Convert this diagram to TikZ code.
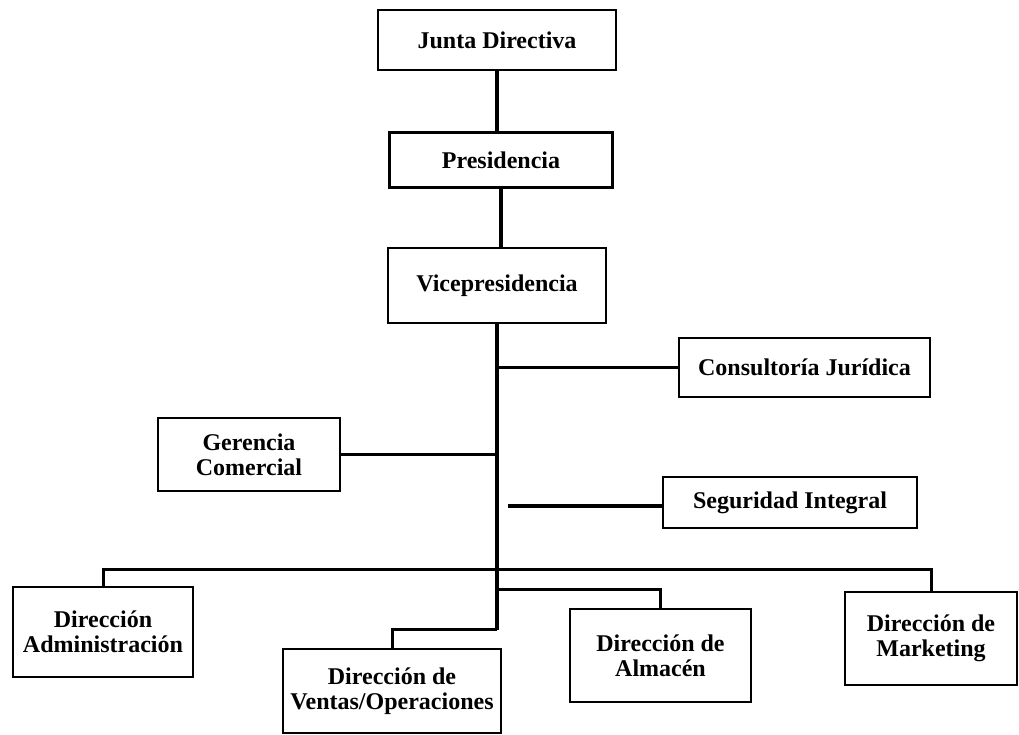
\documentclass[tikz,border=0pt]{standalone}
\usepackage{fontspec}
\setmainfont{Liberation Serif}
\usetikzlibrary{positioning}
\tikzset{
  blk/.style={draw, line width=2.5pt, align=center, inner sep=2pt, font=\bfseries\fontsize{24}{25}\selectfont},
  lnk/.style={line width=3.5pt},
  bus/.style={line width=3pt},
}

\begin{document}
\begin{tikzpicture}[x=1pt,y=1pt]
  \useasboundingbox (0,0) rectangle (1019,735);
  % upper chain
  \node[blk, minimum width=238pt, minimum height=60pt] (junta) at (497,695) {Junta Directiva};
  \node[blk, minimum width=223pt, minimum height=55pt, below=60pt of junta, xshift=4pt] (pres) {Presidencia};
  \node[blk, minimum width=218pt, minimum height=75pt, below=58pt of pres, xshift=-4pt] (vice) {Vicepresidencia};
  % staff units
  \node[blk, minimum width=251pt, minimum height=59pt] (cons) at (804.5,367.5) {Consultoría Jurídica};
  \node[blk, minimum width=182pt, minimum height=73pt] (ger) at (249,280.5) {Gerencia\\Comercial};
  \node[blk, minimum width=254pt, minimum height=51pt] (seg) at (790,232.5) {Seguridad Integral};
  % directions
  \node[blk, minimum width=180pt, minimum height=90pt] (adm) at (103,103) {Dirección\\Administración};
  \node[blk, minimum width=218pt, minimum height=84pt] (ven) at (392,44) {Dirección de\\Ventas/Operaciones};
  \node[blk, minimum width=181pt, minimum height=93pt] (alm) at (660.5,79.5) {Dirección de\\Almacén};
  \node[blk, minimum width=172pt, minimum height=93pt] (mkt) at (931,96.5) {Dirección de\\Marketing};
  \coordinate (tend) at (497,105);
  \coordinate (bus1) at (497,165);
  \coordinate (bus2) at (497,145);
  \coordinate (segend) at (508,229);
  \draw[lnk] (junta.south) -- (junta.south |- pres.north);
  \draw[lnk] (pres.south) -- (pres.south |- vice.north);
  \draw[lnk] (vice.south) -- (tend);
  \draw[lnk] (cons.west) -- (cons.west -| vice.south);
  \draw[lnk] (ger.east) -- (ger.east -| vice.south);
  \draw[lnk] (seg.west |- segend) -- (segend);
  \draw[bus] (adm.north) |- (bus1) -| (mkt.north);
  \draw[bus] (bus2) -| (alm.north);
  \draw[bus] (tend) -| (ven.north);
\end{tikzpicture}
\end{document}
